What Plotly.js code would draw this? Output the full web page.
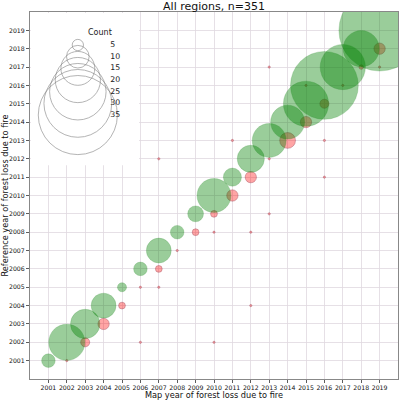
<!DOCTYPE html>
<html>
<head>
<meta charset="utf-8">
<script src="https://cdn.plot.ly/plotly-3.0.1.min.js"></script>
<style>html,body{margin:0;padding:0;background:#fff}#chart{width:400px;height:400px}</style>
</head>
<body>
<div id="chart"></div>
<script>
// Diagonal (map year == reference year)
const matchYears = [2001,2002,2003,2004,2005,2006,2007,2008,2009,2010,2011,2012,2013,2014,2015,2016,2017,2018,2019];
const matchCounts = [6,16,13,11,4,6,11,6,7,15,8,12,15,15,20,30,20,16,36];

// Off-diagonal (map year != reference year)
const missMapYear = [2002,2003,2004,2005,2006,2006,2007,2007,2008,2009,2010,2010,2010,2011,2012,2012,2012,2013,2013,2013,2011,2007,2014,2015,2016,2016,2016,2015,2017,2018,2019,2019];
const missRefYear = [2001,2002,2003,2004,2002,2005,2005,2006,2007,2008,2002,2008,2009,2010,2011,2004,2008,2009,2012,2017,2013,2012,2013,2014,2015,2013,2011,2016,2016,2017,2018,2017];
const missCounts  = [1,4,5,3,1,1,1,3,1,3,1,1,3,5,5,1,1,1,1,1,1,1,7,5,4,1,1,1,1,2,5,1];

const legendCounts = [5,10,15,20,25,30,35];
const tickYears = matchYears;

const titleText = 'All regions, n=351';
const xTitle = 'Map year of forest loss due to fire';
const yTitle = 'Reference year of forest loss due to fire';
const legendTitle = 'Count';

const PX_PER_COUNT = 2.26;
const font = 'DejaVu Sans, Liberation Sans, sans-serif';

const red = {
  x: missMapYear, y: missRefYear, mode: 'markers', type: 'scatter',
  marker: {size: missCounts.map(c => c * PX_PER_COUNT), color: 'rgba(255,0,0,0.5)',
           line: {color: 'rgba(140,30,50,0.6)', width: 0.8}},
  hoverinfo: 'skip', showlegend: false
};
const green = {
  x: matchYears, y: matchYears, mode: 'markers', type: 'scatter',
  marker: {size: matchCounts.map(c => c * PX_PER_COUNT), color: 'rgba(0,128,0,0.56)',
           line: {color: 'rgba(0,120,0,0.5)', width: 0.5}},
  hoverinfo: 'skip', showlegend: false
};

// size legend on an overlay axis with range [0,1]
const legY0 = 0.910, legDy = 0.0318;
const legYs = legendCounts.map((c, i) => legY0 - i * legDy);
const legCircles = {
  x: legendCounts.map(() => 0.130), y: legYs, xaxis: 'x2', yaxis: 'y2',
  mode: 'markers', type: 'scatter',
  marker: {size: legendCounts.map(c => c * PX_PER_COUNT), color: 'rgba(0,0,0,0)',
           line: {color: '#7a7a7a', width: 0.8}},
  hoverinfo: 'skip', showlegend: false
};
const legLabels = {
  x: legendCounts.map(() => 0.218), y: legYs, xaxis: 'x2', yaxis: 'y2',
  mode: 'text', type: 'scatter', text: legendCounts.map(String),
  textposition: 'middle right', textfont: {family: font, size: 7.8, color: '#222'},
  hoverinfo: 'skip', showlegend: false
};
const legTitle = {
  x: [0.19], y: [0.943], xaxis: 'x2', yaxis: 'y2',
  mode: 'text', type: 'scatter', text: [legendTitle],
  textposition: 'middle center', textfont: {family: font, size: 8, color: '#222'},
  hoverinfo: 'skip', showlegend: false
};

const axisCommon = {
  range: [2000, 2020], tickmode: 'array', tickvals: tickYears, ticktext: tickYears.map(String),
  tickfont: {family: font, size: 6.2, color: '#111'},
  ticks: 'outside', ticklen: 3, tickwidth: 0.8, tickcolor: '#333',
  showgrid: true, gridcolor: '#e0d8e0', gridwidth: 0.8,
  showline: true, linecolor: '#888', linewidth: 1, mirror: true,
  zeroline: false, fixedrange: true
};

const layout = {
  width: 400, height: 400,
  margin: {l: 30, r: 2, t: 12, b: 21},
  paper_bgcolor: '#fff', plot_bgcolor: '#fff',
  title: {text: titleText, font: {family: font, size: 11, color: '#111'},
          x: 0.535, xanchor: 'center', y: 0.984, yanchor: 'middle'},
  xaxis: Object.assign({}, axisCommon, {
    title: {text: xTitle, font: {family: font, size: 8.2, color: '#111'}, standoff: 2}
  }),
  yaxis: Object.assign({}, axisCommon, {
    title: {text: yTitle, font: {family: font, size: 8.2, color: '#111'}, standoff: 4}
  }),
  xaxis2: {overlaying: 'x', range: [0, 1], visible: false, fixedrange: true},
  yaxis2: {overlaying: 'y', range: [0, 1], visible: false, fixedrange: true},
  shapes: [{
    type: 'rect', xref: 'x', yref: 'y', x0: 2000.05, x1: 2005.93, y0: 2011.65, y1: 2019.95,
    fillcolor: '#fff', line: {width: 0}, layer: 'between'
  }],
  showlegend: false
};

Plotly.newPlot('chart', [red, green, legCircles, legLabels, legTitle], layout,
  {staticPlot: true, displayModeBar: false});
</script>
</body>
</html>
